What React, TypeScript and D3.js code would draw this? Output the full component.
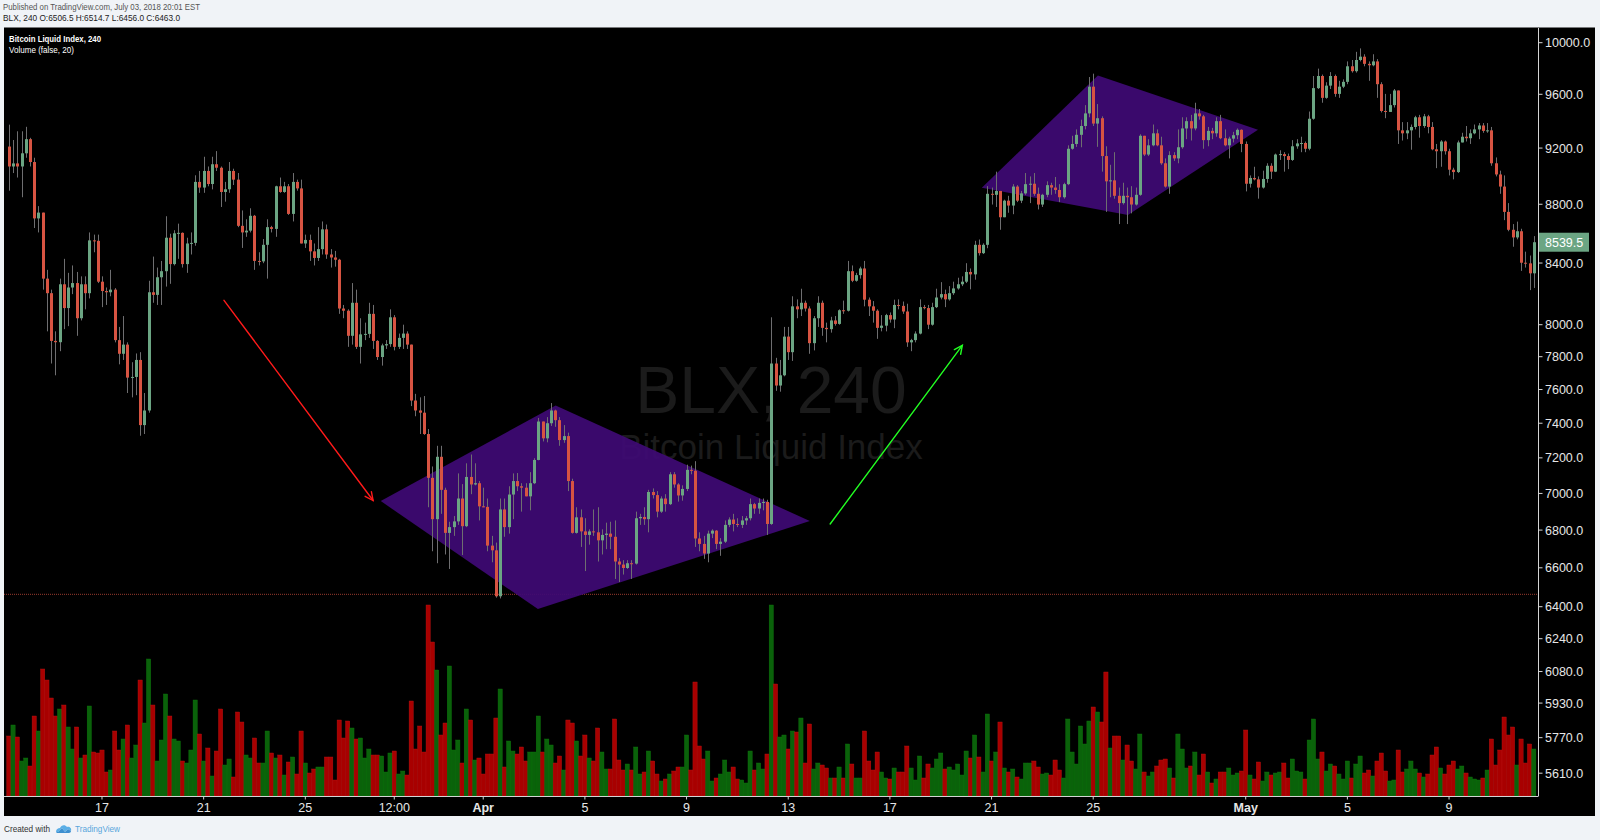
import React from 'react';
import * as d3 from 'd3';

// BLX 4h candles, Mar 13 08:00 -> May 12 08:00 (2018). Open of each bar = previous close.
const FIRST_OPEN = 9211;

const CLOSES = [
  9067, 9089, 9067, 9162, 9265, 9099, 8702, 8742, 8297, 8202,
  7898, 7890, 8260, 8106, 8239, 8268, 8041, 8260, 8202, 8552,
  8549, 8277, 8216, 8208, 8225, 7903, 7818, 7875, 7672, 7676,
  7780, 7389, 7475, 8208, 8191, 8306, 8346, 8570, 8393, 8600,
  8603, 8393, 8531, 8535, 8957, 8917,
  9035, 8942, 9083, 9058, 8886, 8905, 9035, 8973, 8651, 8606,
  8618, 8720, 8414, 8411, 8522, 8642, 8630, 8926, 8886, 8926,
  8733, 8957, 8911, 8531, 8555, 8478, 8434, 8493, 8627, 8457,
  8437, 8422, 8103, 8089, 7930, 8140, 7861, 7939, 7942, 8069,
  7898, 7798, 7870, 7878, 8047,
  7861, 7917, 7944, 7875, 7534, 7475, 7462, 7337, 7087, 6859,
  7206, 7020, 6785, 6816, 6847, 6972, 6821, 7092, 7050, 7057,
  6929, 6926, 6717, 6692, 6453, 6912, 6816, 6994, 7069, 7040,
  7032, 6984, 7057, 7188, 7410, 7312, 7400, 7475, 7418, 7302,
  7325, 7069, 6785, 6869, 6793,
  6774, 6793, 6788, 6745, 6774, 6781, 6764, 6633, 6617, 6599,
  6624, 6622, 6864, 6871, 6859, 7008, 6991, 6900, 6972, 6941,
  7107, 7050, 6989, 7025, 7132, 7127, 6755, 6726, 6675, 6781,
  6797, 6726, 6738, 6828, 6857, 6833, 6828, 6852, 6864, 6941,
  6917, 6948, 6953, 6833, 7758, 7624,
  7686, 7925, 7828, 8117, 8098, 8140, 8103, 7884, 8041, 8140,
  7980, 7972, 8027, 8005, 8092, 8089, 8346, 8283, 8320, 8364,
  8160, 8117, 8089, 7980, 7994, 8061, 8033, 8126, 8120, 8084,
  7889, 7903, 7944, 8112, 8106, 8000, 8112, 8174, 8196, 8162,
  8202, 8233, 8260, 8277, 8341,
  8325, 8522, 8466, 8522, 8873, 8866, 8893, 8710, 8825, 8791,
  8924, 8825, 8876, 8941, 8944, 8873, 8798, 8866, 8934, 8917,
  8900, 8849, 8941, 9195, 9230, 9297, 9362, 9456, 9658, 9380,
  9420, 9142, 8961, 8968, 8859, 8808, 8859, 8849, 8798, 8866,
  9290, 9153, 9220, 9308, 9220,
  9090, 8924, 9149, 9125, 9206, 9344, 9398, 9344, 9456, 9434,
  9258, 9326, 9308, 9398, 9272, 9220, 9269, 9294, 9334, 9230,
  8944, 8985, 8975, 8917, 8978, 9072, 9030, 9153, 9156, 9142,
  9114, 9213, 9234, 9237, 9195, 9416, 9647, 9740, 9573, 9666,
  9740, 9603, 9658, 9695, 9815, 9777,
  9864, 9890, 9834, 9823, 9853, 9677, 9474, 9467, 9518, 9629,
  9330, 9308, 9330, 9355, 9427, 9362, 9434, 9355, 9191, 9177,
  9248, 9177, 9044, 9027, 9241, 9283, 9272, 9308, 9337, 9366,
  9326, 9330, 9090, 9010, 8924, 8747, 8624, 8572, 8614, 8402,
  8398, 8332, 8539.5,
];

const HIGHS = [
  9372, 9259, 9323, 9323, 9356, 9275, 9130, 8787, 8742, 8355,
  8225, 7958, 8297, 8428, 8335, 8384, 8341, 8312, 8312, 8606,
  8591, 8591, 8312, 8239, 8355, 8235, 7986, 8055, 7889, 7766,
  7820, 7828, 7579, 8283, 8443, 8370, 8414, 8717, 8597, 8621,
  8666, 8606, 8570, 8606, 9004, 9035,
  9137, 9067, 9137, 9178, 9067, 8957, 9099, 9051, 9020, 8757,
  8696, 8772, 8726, 8472, 8561, 8696, 8651, 8930, 8988, 8957,
  8942, 9020, 8973, 8973, 8591, 8591, 8531, 8642, 8681, 8660,
  8493, 8481, 8428, 8126, 8098, 8268, 8225, 8041, 8013, 8140,
  8126, 7903, 7881, 7903, 8098,
  8061, 7944, 8000, 7958, 7870, 7574, 7553, 7561, 7366, 7151,
  7269, 7269, 7032, 6845, 6876, 7112, 7052, 7169, 7219, 7169,
  7069, 7032, 6972, 6769, 6733, 6972, 6972, 7040, 7112, 7114,
  7057, 7057, 7119, 7198, 7431, 7410, 7436, 7519, 7480, 7436,
  7389, 7345, 7082, 6924, 6912,
  6864, 6804, 6912, 6924, 6804, 6840, 6845, 6852, 6651, 6640,
  6640, 6640, 6900, 6888, 6924, 7020, 7028, 7013, 6984, 6996,
  7119, 7119, 7057, 7045, 7161, 7156, 7181, 6788, 6769, 6797,
  6804, 6800, 6757, 6852, 6869, 6888, 6864, 6876, 6876, 6972,
  6948, 6972, 6972, 6965, 8047, 7793,
  7780, 7986, 7986, 8182, 8162, 8231, 8154, 8117, 8055, 8182,
  8154, 8013, 8050, 8055, 8098, 8154, 8414, 8384, 8335, 8376,
  8414, 8174, 8151, 8098, 8061, 8069, 8078, 8160, 8162, 8148,
  8134, 7911, 7958, 8162, 8126, 8126, 8140, 8231, 8274, 8225,
  8248, 8277, 8303, 8312, 8399,
  8364, 8549, 8558, 8532, 8927, 8917, 9030, 8890, 8832, 8859,
  8941, 8934, 8893, 9020, 8996, 9020, 8917, 8873, 8961, 8951,
  8992, 8941, 8951, 9220, 9290, 9337, 9409, 9518, 9732, 9758,
  9526, 9434, 9213, 9079, 9170, 8917, 8951, 8917, 8927, 8917,
  9301, 9290, 9265, 9373, 9337,
  9283, 9125, 9177, 9170, 9337, 9427, 9427, 9445, 9536, 9489,
  9445, 9355, 9348, 9427, 9445, 9337, 9283, 9319, 9344, 9337,
  9248, 9003, 9065, 8996, 9037, 9090, 9090, 9160, 9184, 9170,
  9160, 9258, 9265, 9283, 9248, 9470, 9740, 9797, 9751, 9692,
  9770, 9751, 9703, 9714, 9853, 9864,
  9928, 9955, 9909, 9853, 9909, 9871, 9692, 9603, 9603, 9640,
  9629, 9391, 9391, 9373, 9438, 9445, 9452, 9445, 9391, 9230,
  9258, 9255, 9195, 9058, 9255, 9312, 9362, 9337, 9373, 9384,
  9384, 9384, 9355, 9132, 9037, 9003, 8808, 8663, 8680, 8631,
  8476, 8450, 8581,
];

const LOWS = [
  8895, 9020, 8988, 8849, 9130, 9067, 8636, 8606, 8225, 7958,
  7758, 7686, 7834, 7972, 7991, 8196, 7930, 8027, 8098, 8168,
  8472, 8268, 8112, 8126, 8182, 7889, 7753, 7780, 7579, 7553,
  7566, 7327, 7337, 7462, 8140, 8126, 8126, 8245, 8263, 8384,
  8428, 8370, 8335, 8457, 8516, 8880,
  8880, 8926, 8904, 9035, 8781, 8818, 8880, 8935, 8642, 8501,
  8576, 8606, 8355, 8384, 8399, 8297, 8606, 8576, 8880, 8880,
  8726, 8681, 8895, 8531, 8501, 8414, 8384, 8414, 8457, 8428,
  8370, 8376, 8069, 8041, 7861, 7875, 7848, 7758, 7903, 7917,
  7848, 7780, 7745, 7848, 7861,
  7839, 7848, 7848, 7848, 7501, 7441, 7337, 7332, 6924, 6687,
  6624, 6888, 6670, 6594, 6769, 6828, 6667, 6816, 6996, 7045,
  6852, 6924, 6687, 6629, 6446, 6442, 6764, 6781, 6859, 7013,
  6900, 6984, 6907, 7052, 7186, 7294, 7289, 7384, 7379, 7269,
  7286, 7013, 6781, 6781, 6710,
  6583, 6722, 6769, 6633, 6670, 6698, 6698, 6542, 6526, 6565,
  6594, 6542, 6617, 6828, 6828, 6788, 6972, 6869, 6893, 6900,
  6936, 7032, 6955, 6960, 7013, 7107, 6710, 6687, 6647, 6629,
  6757, 6698, 6663, 6731, 6816, 6793, 6816, 6811, 6828, 6852,
  6888, 6888, 6907, 6774, 6828, 7592,
  7587, 7680, 7780, 7774, 8041, 8055, 8084, 7818, 7839, 7986,
  7930, 7889, 7950, 7994, 8000, 8069, 8084, 8274, 8277, 8297,
  8117, 8055, 8013, 7911, 7958, 7958, 8013, 7978, 8098, 8069,
  7861, 7834, 7889, 7939, 8098, 7972, 7994, 8106, 8162, 8112,
  8154, 8191, 8225, 8248, 8268,
  8227, 8290, 8450, 8460, 8499, 8798, 8781, 8624, 8710, 8741,
  8731, 8815, 8808, 8866, 8808, 8859, 8764, 8781, 8849, 8866,
  8873, 8815, 8839, 8934, 9188, 9209, 9206, 9337, 9427, 9362,
  9209, 9030, 8747, 8849, 8839, 8663, 8798, 8663, 8737, 8791,
  8859, 9142, 9142, 9213, 9213,
  9079, 8917, 8873, 9107, 9090, 9195, 9265, 9255, 9330, 9409,
  9195, 9213, 9265, 9283, 9265, 9213, 9125, 9241, 9265, 9170,
  8890, 8917, 8968, 8839, 8910, 8951, 8978, 9027, 9114, 9030,
  9048, 9107, 9195, 9170, 9170, 9184, 9409, 9640, 9536, 9566,
  9640, 9581, 9573, 9647, 9677, 9766,
  9766, 9853, 9815, 9703, 9815, 9573, 9463, 9420, 9474, 9500,
  9230, 9255, 9265, 9188, 9337, 9276, 9348, 9308, 9184, 9055,
  9065, 9153, 9003, 8975, 9020, 9248, 9248, 9230, 9301, 9265,
  9312, 9312, 9072, 8996, 8873, 8690, 8614, 8509, 8559, 8348,
  8370, 8222, 8236,
];

const VOLUMES = [
  60, 71, 59, 35, 38, 30, 80, 65, 127, 116,
  98, 80, 87, 91, 69, 47, 69, 38, 41, 90,
  44, 43, 46, 24, 26, 65, 46, 57, 71, 38,
  51, 116, 73, 137, 91, 35, 56, 102, 80, 57,
  55, 35, 33, 46, 96, 62,
  35, 48, 20, 45, 87, 31, 37, 19, 84, 74,
  41, 38, 58, 33, 33, 65, 43, 38, 41, 21,
  34, 39, 22, 65, 33, 23, 27, 29, 29, 39,
  39, 16, 76, 58, 75, 68, 57, 58, 38, 47,
  41, 41, 40, 24, 43,
  45, 22, 25, 21, 95, 47, 70, 44, 191, 154,
  126, 61, 73, 130, 46, 56, 33, 87, 76, 36,
  38, 22, 42, 42, 78, 107, 29, 55, 45, 42,
  49, 35, 44, 44, 80, 44, 57, 51, 33, 40,
  26, 76, 73, 55, 40,
  61, 38, 35, 68, 44, 27, 27, 77, 36, 26,
  32, 26, 49, 22, 24, 45, 35, 22, 15, 17,
  22, 25, 29, 29, 61, 26, 114, 50, 37, 45,
  15, 18, 22, 36, 24, 29, 17, 16, 13, 45,
  26, 33, 27, 42, 191, 112,
  59, 61, 47, 65, 64, 78, 33, 72, 27, 33,
  31, 28, 18, 18, 29, 18, 52, 32, 18, 18,
  65, 35, 26, 44, 24, 18, 17, 28, 24, 24,
  50, 28, 16, 40, 18, 32, 28, 37, 43, 27,
  29, 26, 32, 21, 45,
  38, 61, 39, 24, 82, 35, 44, 74, 28, 24,
  27, 19, 17, 33, 33, 35, 29, 22, 23, 21,
  36, 26, 18, 77, 44, 32, 70, 52, 75, 89,
  84, 74, 124, 48, 60, 60, 36, 51, 35, 27,
  62, 24, 20, 24, 30,
  36, 37, 28, 18, 62, 47, 28, 30, 44, 21,
  42, 24, 13, 17, 24, 24, 28, 21, 23, 25,
  66, 21, 17, 34, 15, 24, 21, 23, 24, 33,
  18, 37, 25, 24, 17, 56, 77, 37, 44, 25,
  32, 30, 22, 17, 35, 18,
  32, 40, 23, 26, 20, 35, 43, 25, 15, 16,
  46, 24, 27, 35, 27, 23, 19, 22, 41, 49,
  28, 22, 31, 35, 27, 30, 23, 19, 17, 16,
  18, 26, 57, 31, 46, 79, 61, 69, 31, 57,
  33, 52, 47,
];

// time axis: bar index -> label
const TICK_INDEX = [22, 46, 70, 91, 112, 136, 160, 184, 208, 232, 256, 292, 316, 340];
const TICK_LABELS = ['17', '21', '25', '12:00', 'Apr', '5', '9', '13', '17', '21', '25', 'May', '5', '9'];
const BOLD_LABELS = ['Apr', 'May'];

const PRICE_TICKS = [10000, 9600, 9200, 8800, 8400, 8000, 7800, 7600, 7400, 7200, 7000, 6800, 6600, 6400,
  6240, 6080, 5930, 5770, 5610];

const LAST_CLOSE = 6463.0;
const MARKED_PRICE = 8539.5;

// drawings in (bar index, price)
const DIAMOND_1: [number, number][] = [[87.8, 6958], [129.1, 7505], [189.1, 6849], [124.9, 6388]];
const DIAMOND_2: [number, number][] = [[229.7, 8915], [257.1, 9744], [294.9, 9335], [264.2, 8725]];
const DOWN_ARROW: [number, number][] = [[50.8, 8156], [86.0, 6961]];
const UP_ARROW: [number, number][] = [[193.9, 6833], [225.1, 7870]];

const FONT = '"Liberation Sans", Arial, sans-serif';
const UP = '#6ba583';
const DOWN = '#d75442';

export default function App() {
  const W = 1600;
  const H = 840;
  const P = { left: 4, right: 1538.5, top: 28, bottom: 796 };

  const x = d3.scaleLinear().domain([0, 360]).range([8.8, 8.8 + 360 * 4.236]);
  const y = d3.scaleLog().domain([6400, 10000]).range([606.7, 42.7]);
  const yv = d3.scaleLinear().domain([0, 200]).range([P.bottom, P.bottom - 200]);
  const step = x(1) - x(0);

  const bars = CLOSES.map((c, i) => {
    const o = i === 0 ? FIRST_OPEN : CLOSES[i - 1];
    return {
      i, o, c,
      h: Math.max(HIGHS[i], o, c),
      l: Math.min(LOWS[i], o, c),
      v: VOLUMES[i],
      up: c >= o,
    };
  });

  const poly = (pts: [number, number][]) => pts.map(([i, p]) => `${x(i)},${y(p)}`).join(' ');

  const arrow = (pts: [number, number][], color: string) => {
    const [x1, y1] = [x(pts[0][0]), y(pts[0][1])];
    const [x2, y2] = [x(pts[1][0]), y(pts[1][1])];
    const a = Math.atan2(y2 - y1, x2 - x1);
    const L = 9, th = Math.PI / 7;
    const h1 = [x2 - L * Math.cos(a - th), y2 - L * Math.sin(a - th)];
    const h2 = [x2 - L * Math.cos(a + th), y2 - L * Math.sin(a + th)];
    return (
      <g stroke={color} strokeWidth={1.4} fill="none" strokeLinecap="round">
        <line x1={x1} y1={y1} x2={x2} y2={y2} />
        <polyline points={`${h1[0]},${h1[1]} ${x2},${y2} ${h2[0]},${h2[1]}`} />
      </g>
    );
  };

  return (
    <div style={{ position: 'absolute', left: 0, top: 0 }}>
      <svg width={W} height={H} style={{ display: 'block' }} fontFamily={FONT}>
        <rect width={W} height={H} fill="#f0f3f7" />

        {/* header */}
        <text x={3} y={10} fontSize={9} fill="#555" textLength={197} lengthAdjust="spacingAndGlyphs">
          Published on TradingView.com, July 03, 2018 20:01 EST
        </text>
        <text x={3} y={20.5} fontSize={9} fill="#222" textLength={177} lengthAdjust="spacingAndGlyphs">
          BLX, 240 O:6506.5 H:6514.7 L:6456.0 C:6463.0
        </text>

        {/* chart panel */}
        <rect x={P.left} y={27.5} width={1591} height={788.5} fill="#000" />

        <defs>
          <clipPath id="plot">
            <rect x={P.left} y={P.top} width={P.right - P.left} height={P.bottom - P.top} />
          </clipPath>
        </defs>

        <g clipPath="url(#plot)">
          {/* watermark */}
          <text x={771} y={413} fontSize={66} fill="#1b1b1b" textAnchor="middle">BLX, 240</text>
          <text x={771} y={459} fontSize={35} fill="#1b1b1b" textAnchor="middle">Bitcoin Liquid Index</text>

          {/* volume */}
          {bars.map(b => (
            <rect key={`v${b.i}`} x={x(b.i) - step / 2} width={step} y={yv(b.v)} height={yv(0) - yv(b.v)}
              fill={b.up ? '#0a620a' : '#a80000'} stroke={b.up ? '#0d7a0d' : '#bb1414'} strokeWidth={0.4} />
          ))}

          {/* last price line */}
          <line x1={P.left} x2={P.right} y1={y(LAST_CLOSE)} y2={y(LAST_CLOSE)}
            stroke="#c0483a" strokeOpacity={0.8} strokeDasharray="1 1" />

          {/* drawings */}
          <polygon points={poly(DIAMOND_1)} fill="#3e0a74" fillOpacity={0.93} />
          <polygon points={poly(DIAMOND_2)} fill="#3e0a74" fillOpacity={0.93} />
          {arrow(DOWN_ARROW, '#ff1a1a')}
          {arrow(UP_ARROW, '#22ff22')}

          {/* candles */}
          {bars.map(b => {
            const cx = Math.round(x(b.i));
            const top = y(Math.max(b.o, b.c));
            const bot = y(Math.min(b.o, b.c));
            return (
              <g key={`c${b.i}`}>
                <line x1={cx + 0.5} x2={cx + 0.5} y1={y(b.h)} y2={y(b.l)} stroke="#6e6e70" />
                <rect x={cx - 1} width={3} y={top} height={Math.max(1, bot - top)} fill={b.up ? UP : DOWN} />
              </g>
            );
          })}
        </g>

        {/* legend */}
        <text x={9} y={42} fontSize={9.5} fontWeight="bold" fill="#fff" textLength={92} lengthAdjust="spacingAndGlyphs">
          Bitcoin Liquid Index, 240
        </text>
        <text x={9} y={53} fontSize={9.5} fill="#fff" textLength={65} lengthAdjust="spacingAndGlyphs">
          Volume (false, 20)
        </text>

        {/* axes */}
        <line x1={P.right} x2={P.right} y1={P.top} y2={P.bottom} stroke="#d4d4d4" />
        <line x1={P.left} x2={P.right} y1={P.bottom + 0.5} y2={P.bottom + 0.5} stroke="#d4d4d4" />

        {PRICE_TICKS.map(t => (
          <g key={`p${t}`}>
            <line x1={P.right} x2={P.right + 4} y1={y(t)} y2={y(t)} stroke="#d4d4d4" />
            <text x={1545} y={y(t) + 4.5} fontSize={12.5} fill="#e6e6e6">{t.toFixed(1)}</text>
          </g>
        ))}

        <rect x={1539} y={y(MARKED_PRICE) - 9.5} width={50} height={19} fill={UP} />
        <text x={1545} y={y(MARKED_PRICE) + 4.5} fontSize={12.5} fill="#fff">{MARKED_PRICE.toFixed(1)}</text>

        {TICK_INDEX.map((idx, k) => (
          <g key={`t${k}`}>
            <line x1={x(idx)} x2={x(idx)} y1={P.bottom} y2={P.bottom + 3.5} stroke="#d4d4d4" />
            <text x={x(idx)} y={811.5} fontSize={12.5} fill="#e6e6e6" textAnchor="middle"
              fontWeight={BOLD_LABELS.includes(TICK_LABELS[k]) ? 'bold' : 'normal'}>
              {TICK_LABELS[k]}
            </text>
          </g>
        ))}

        {/* footer */}
        <text x={4} y={831.5} fontSize={9.5} fill="#333" textLength={46} lengthAdjust="spacingAndGlyphs">Created with</text>
        <g transform="translate(56,823)">
          <path d="M0 9 C0 6 2 5 4 5 C5 2 9 1 11 4 C13 3 16 5 15 8 L12 6 L9 9 L6 5 L2 9 Z" fill="#5aaee6" />
          <path d="M0 9 L2 9 L6 5 L9 9 L12 6 L15 8 C15 9 14 10 13 10 L1 10 Z" fill="#3d8fd0" />
        </g>
        <text x={75} y={831.5} fontSize={9.5} fill="#58a6dc" textLength={45} lengthAdjust="spacingAndGlyphs">TradingView</text>
      </svg>
    </div>
  );
}
